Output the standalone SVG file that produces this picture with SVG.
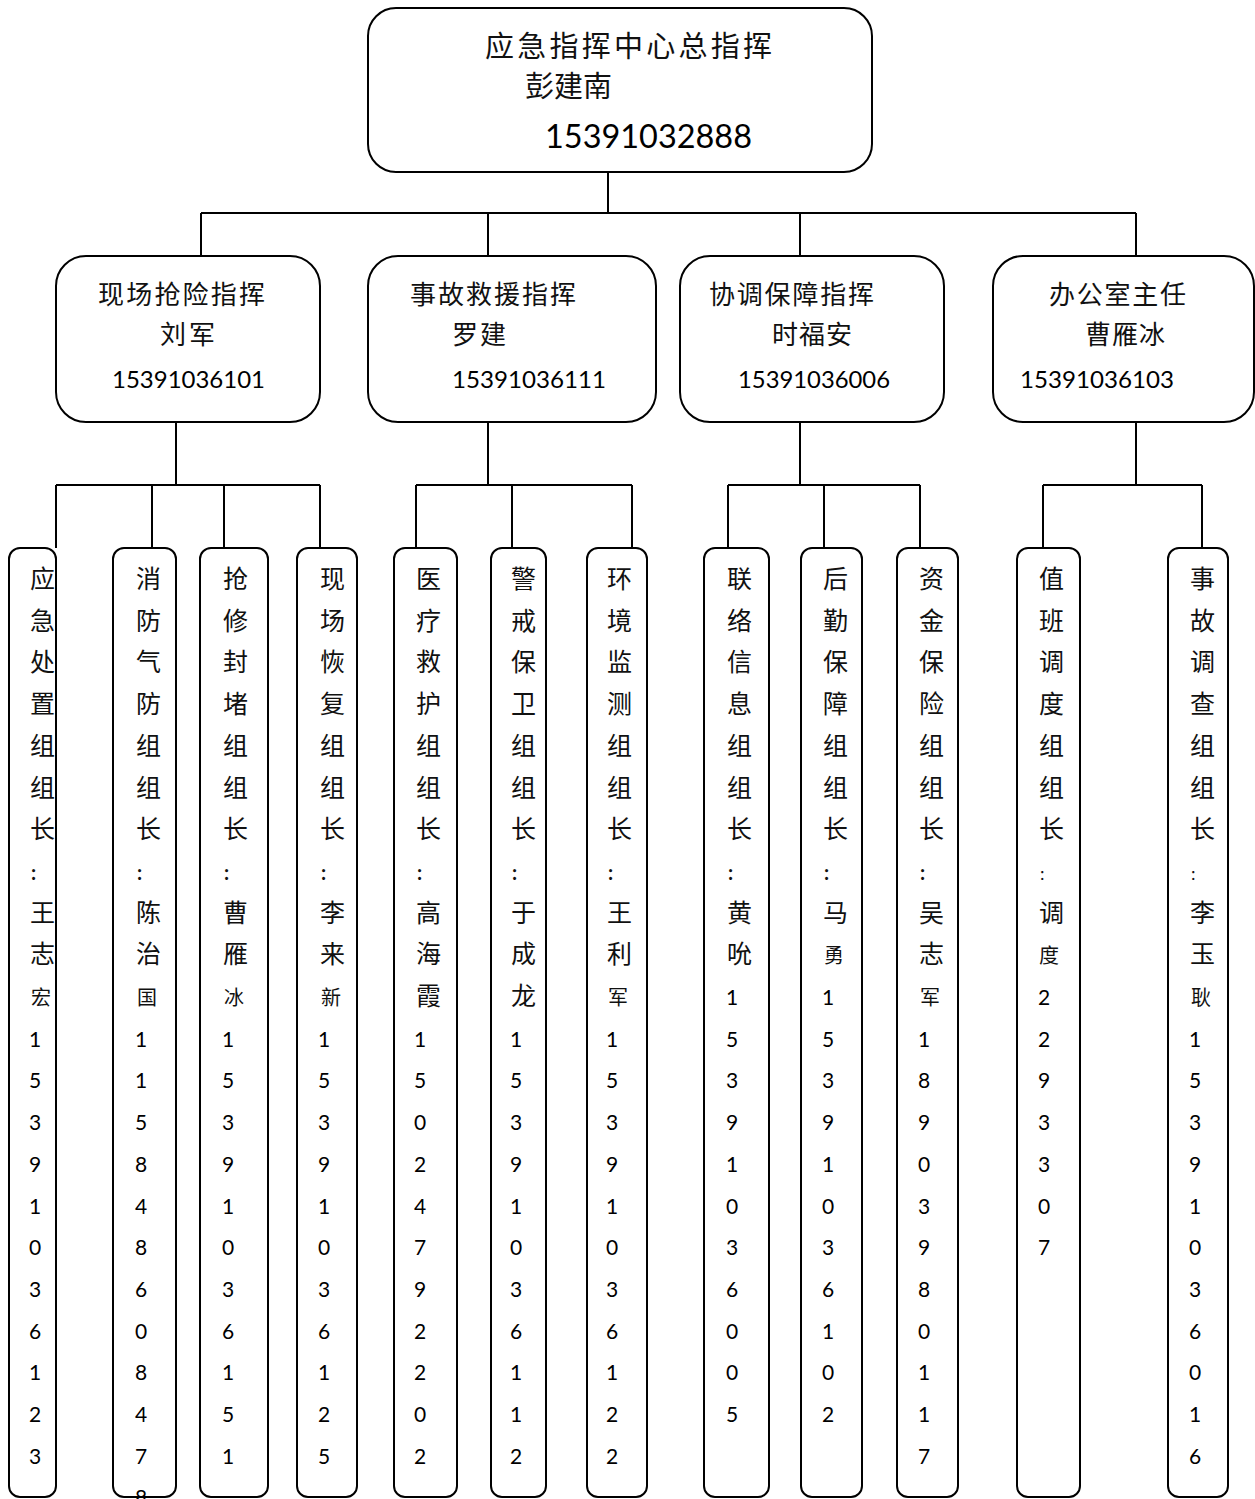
<svg xmlns="http://www.w3.org/2000/svg" width="1255" height="1499" viewBox="0 0 1255 1499">
<style>
.box{fill:#fff;stroke:#000;stroke-width:2}
.con{fill:none;stroke:#000;stroke-width:2}
.cjk{font-family:"Noto Sans CJK SC","Noto Sans CJK JP",sans-serif;fill:#111}
.num{font-family:Lato,"Open Sans","Liberation Sans",sans-serif;fill:#000}
.col{font-family:"Noto Sans CJK SC",sans-serif;font-size:25px;fill:#111}
.d{font-family:Lato,"Open Sans","Liberation Sans",sans-serif;font-size:21px;fill:#000}
.sm{font-size:20px}
.c{font-family:Lato,"Liberation Sans",sans-serif;font-size:20px;font-weight:bold}
.cl{font-family:Lato,"Liberation Sans",sans-serif;font-size:18px}
</style>
<rect width="1255" height="1499" fill="#fff"/>
<g id="connectors">
<path class="con" d="M608,173V213M201,213H1136M201,213V256M488,213V256M800,213V256M1136,213V256"/>
<path class="con" d="M176,422V485M56,485H320M56,485V548M152,485V548M224,485V548M320,485V548"/>
<path class="con" d="M488,422V485M416,485H632M416,485V548M512,485V548M632,485V548"/>
<path class="con" d="M800,422V485M728,485H920M728,485V548M824,485V548M920,485V548"/>
<path class="con" d="M1136,422V485M1043,485H1202M1043,485V548M1202,485V548"/>
</g>
<g id="n-top">
<rect class="box" x="368" y="8" width="504" height="164" rx="28"/>
<text class="cjk" x="485" y="57" font-size="29" textLength="287" lengthAdjust="spacing">应急指挥中心总指挥</text>
<text class="cjk" x="525" y="97" font-size="29" textLength="87" lengthAdjust="spacing">彭建南</text>
<text class="num" x="545" y="148" font-size="32" textLength="207" lengthAdjust="spacingAndGlyphs">15391032888</text>
</g>
<g id="n-b1">
<rect class="box" x="56" y="256" width="264" height="166" rx="30"/>
<text class="cjk" x="98" y="304" font-size="26" textLength="167" lengthAdjust="spacing">现场抢险指挥</text>
<text class="cjk" x="160" y="344" font-size="26" textLength="55" lengthAdjust="spacing">刘军</text>
<text class="num" x="112" y="388" font-size="23" textLength="153" lengthAdjust="spacingAndGlyphs">15391036101</text>
</g>
<g id="n-b2">
<rect class="box" x="368" y="256" width="288" height="166" rx="30"/>
<text class="cjk" x="410" y="304" font-size="26" textLength="166" lengthAdjust="spacing">事故救援指挥</text>
<text class="cjk" x="452" y="344" font-size="26" textLength="54" lengthAdjust="spacing">罗建</text>
<text class="num" x="452" y="388" font-size="23" textLength="154" lengthAdjust="spacingAndGlyphs">15391036111</text>
</g>
<g id="n-b3">
<rect class="box" x="680" y="256" width="264" height="166" rx="30"/>
<text class="cjk" x="709" y="304" font-size="26" textLength="165" lengthAdjust="spacing">协调保障指挥</text>
<text class="cjk" x="772" y="344" font-size="26" textLength="80" lengthAdjust="spacing">时福安</text>
<text class="num" x="738" y="388" font-size="23" textLength="152" lengthAdjust="spacingAndGlyphs">15391036006</text>
</g>
<g id="n-b4">
<rect class="box" x="993" y="256" width="261" height="166" rx="30"/>
<text class="cjk" x="1049" y="304" font-size="26" textLength="137" lengthAdjust="spacing">办公室主任</text>
<text class="cjk" x="1085" y="344" font-size="26" textLength="80" lengthAdjust="spacing">曹雁冰</text>
<text class="num" x="1020" y="388" font-size="23" textLength="154" lengthAdjust="spacingAndGlyphs">15391036103</text>
</g>
<g id="c1">
<rect class="box" x="9" y="548" width="47" height="949" rx="11"/>
<text class="col"><tspan x="30" y="588">应</tspan><tspan x="30" y="629.7">急</tspan><tspan x="30" y="671.4">处</tspan><tspan x="30" y="713.1">置</tspan><tspan x="30" y="754.8">组</tspan><tspan x="30" y="796.5">组</tspan><tspan x="30" y="838.2">长</tspan><tspan class="c" x="31" y="879.9">:</tspan><tspan x="30" y="921.6">王</tspan><tspan x="30" y="963.3">志</tspan><tspan class="sm" x="31" y="1005">宏</tspan><tspan class="d" x="29" y="1046.7">1</tspan><tspan class="d" x="29" y="1088.4">5</tspan><tspan class="d" x="29" y="1130.1">3</tspan><tspan class="d" x="29" y="1171.8">9</tspan><tspan class="d" x="29" y="1213.5">1</tspan><tspan class="d" x="29" y="1255.2">0</tspan><tspan class="d" x="29" y="1296.9">3</tspan><tspan class="d" x="29" y="1338.6">6</tspan><tspan class="d" x="29" y="1380.3">1</tspan><tspan class="d" x="29" y="1422">2</tspan><tspan class="d" x="29" y="1463.7">3</tspan></text>
</g>
<g id="c2">
<rect class="box" x="113" y="548" width="63" height="949" rx="11"/>
<text class="col"><tspan x="136" y="588">消</tspan><tspan x="136" y="629.7">防</tspan><tspan x="136" y="671.4">气</tspan><tspan x="136" y="713.1">防</tspan><tspan x="136" y="754.8">组</tspan><tspan x="136" y="796.5">组</tspan><tspan x="136" y="838.2">长</tspan><tspan class="c" x="137" y="879.9">:</tspan><tspan x="136" y="921.6">陈</tspan><tspan x="136" y="963.3">治</tspan><tspan class="sm" x="137" y="1005">国</tspan><tspan class="d" x="135" y="1046.7">1</tspan><tspan class="d" x="135" y="1088.4">1</tspan><tspan class="d" x="135" y="1130.1">5</tspan><tspan class="d" x="135" y="1171.8">8</tspan><tspan class="d" x="135" y="1213.5">4</tspan><tspan class="d" x="135" y="1255.2">8</tspan><tspan class="d" x="135" y="1296.9">6</tspan><tspan class="d" x="135" y="1338.6">0</tspan><tspan class="d" x="135" y="1380.3">8</tspan><tspan class="d" x="135" y="1422">4</tspan><tspan class="d" x="135" y="1463.7">7</tspan><tspan class="d" x="135" y="1505.4">8</tspan></text>
</g>
<g id="c3">
<rect class="box" x="200" y="548" width="68" height="949" rx="11"/>
<text class="col"><tspan x="223" y="588">抢</tspan><tspan x="223" y="629.7">修</tspan><tspan x="223" y="671.4">封</tspan><tspan x="223" y="713.1">堵</tspan><tspan x="223" y="754.8">组</tspan><tspan x="223" y="796.5">组</tspan><tspan x="223" y="838.2">长</tspan><tspan class="c" x="224" y="879.9">:</tspan><tspan x="223" y="921.6">曹</tspan><tspan x="223" y="963.3">雁</tspan><tspan class="sm" x="224" y="1005">冰</tspan><tspan class="d" x="222" y="1046.7">1</tspan><tspan class="d" x="222" y="1088.4">5</tspan><tspan class="d" x="222" y="1130.1">3</tspan><tspan class="d" x="222" y="1171.8">9</tspan><tspan class="d" x="222" y="1213.5">1</tspan><tspan class="d" x="222" y="1255.2">0</tspan><tspan class="d" x="222" y="1296.9">3</tspan><tspan class="d" x="222" y="1338.6">6</tspan><tspan class="d" x="222" y="1380.3">1</tspan><tspan class="d" x="222" y="1422">5</tspan><tspan class="d" x="222" y="1463.7">1</tspan></text>
</g>
<g id="c4">
<rect class="box" x="297" y="548" width="60" height="949" rx="11"/>
<text class="col"><tspan x="320" y="588">现</tspan><tspan x="320" y="629.7">场</tspan><tspan x="320" y="671.4">恢</tspan><tspan x="320" y="713.1">复</tspan><tspan x="320" y="754.8">组</tspan><tspan x="320" y="796.5">组</tspan><tspan x="320" y="838.2">长</tspan><tspan class="c" x="321" y="879.9">:</tspan><tspan x="320" y="921.6">李</tspan><tspan x="320" y="963.3">来</tspan><tspan class="sm" x="321" y="1005">新</tspan><tspan class="d" x="318" y="1046.7">1</tspan><tspan class="d" x="318" y="1088.4">5</tspan><tspan class="d" x="318" y="1130.1">3</tspan><tspan class="d" x="318" y="1171.8">9</tspan><tspan class="d" x="318" y="1213.5">1</tspan><tspan class="d" x="318" y="1255.2">0</tspan><tspan class="d" x="318" y="1296.9">3</tspan><tspan class="d" x="318" y="1338.6">6</tspan><tspan class="d" x="318" y="1380.3">1</tspan><tspan class="d" x="318" y="1422">2</tspan><tspan class="d" x="318" y="1463.7">5</tspan></text>
</g>
<g id="c5">
<rect class="box" x="394" y="548" width="63" height="949" rx="11"/>
<text class="col"><tspan x="416" y="588">医</tspan><tspan x="416" y="629.7">疗</tspan><tspan x="416" y="671.4">救</tspan><tspan x="416" y="713.1">护</tspan><tspan x="416" y="754.8">组</tspan><tspan x="416" y="796.5">组</tspan><tspan x="416" y="838.2">长</tspan><tspan class="c" x="417" y="879.9">:</tspan><tspan x="416" y="921.6">高</tspan><tspan x="416" y="963.3">海</tspan><tspan x="416" y="1005">霞</tspan><tspan class="d" x="414" y="1046.7">1</tspan><tspan class="d" x="414" y="1088.4">5</tspan><tspan class="d" x="414" y="1130.1">0</tspan><tspan class="d" x="414" y="1171.8">2</tspan><tspan class="d" x="414" y="1213.5">4</tspan><tspan class="d" x="414" y="1255.2">7</tspan><tspan class="d" x="414" y="1296.9">9</tspan><tspan class="d" x="414" y="1338.6">2</tspan><tspan class="d" x="414" y="1380.3">2</tspan><tspan class="d" x="414" y="1422">0</tspan><tspan class="d" x="414" y="1463.7">2</tspan></text>
</g>
<g id="c6">
<rect class="box" x="491" y="548" width="55" height="949" rx="11"/>
<text class="col"><tspan x="511" y="588">警</tspan><tspan x="511" y="629.7">戒</tspan><tspan x="511" y="671.4">保</tspan><tspan x="511" y="713.1">卫</tspan><tspan x="511" y="754.8">组</tspan><tspan x="511" y="796.5">组</tspan><tspan x="511" y="838.2">长</tspan><tspan class="c" x="512" y="879.9">:</tspan><tspan x="511" y="921.6">于</tspan><tspan x="511" y="963.3">成</tspan><tspan x="511" y="1005">龙</tspan><tspan class="d" x="510" y="1046.7">1</tspan><tspan class="d" x="510" y="1088.4">5</tspan><tspan class="d" x="510" y="1130.1">3</tspan><tspan class="d" x="510" y="1171.8">9</tspan><tspan class="d" x="510" y="1213.5">1</tspan><tspan class="d" x="510" y="1255.2">0</tspan><tspan class="d" x="510" y="1296.9">3</tspan><tspan class="d" x="510" y="1338.6">6</tspan><tspan class="d" x="510" y="1380.3">1</tspan><tspan class="d" x="510" y="1422">1</tspan><tspan class="d" x="510" y="1463.7">2</tspan></text>
</g>
<g id="c7">
<rect class="box" x="587" y="548" width="60" height="949" rx="11"/>
<text class="col"><tspan x="607" y="588">环</tspan><tspan x="607" y="629.7">境</tspan><tspan x="607" y="671.4">监</tspan><tspan x="607" y="713.1">测</tspan><tspan x="607" y="754.8">组</tspan><tspan x="607" y="796.5">组</tspan><tspan x="607" y="838.2">长</tspan><tspan class="c" x="608" y="879.9">:</tspan><tspan x="607" y="921.6">王</tspan><tspan x="607" y="963.3">利</tspan><tspan class="sm" x="608" y="1005">军</tspan><tspan class="d" x="606" y="1046.7">1</tspan><tspan class="d" x="606" y="1088.4">5</tspan><tspan class="d" x="606" y="1130.1">3</tspan><tspan class="d" x="606" y="1171.8">9</tspan><tspan class="d" x="606" y="1213.5">1</tspan><tspan class="d" x="606" y="1255.2">0</tspan><tspan class="d" x="606" y="1296.9">3</tspan><tspan class="d" x="606" y="1338.6">6</tspan><tspan class="d" x="606" y="1380.3">1</tspan><tspan class="d" x="606" y="1422">2</tspan><tspan class="d" x="606" y="1463.7">2</tspan></text>
</g>
<g id="c8">
<rect class="box" x="704" y="548" width="65" height="949" rx="11"/>
<text class="col"><tspan x="727" y="588">联</tspan><tspan x="727" y="629.7">络</tspan><tspan x="727" y="671.4">信</tspan><tspan x="727" y="713.1">息</tspan><tspan x="727" y="754.8">组</tspan><tspan x="727" y="796.5">组</tspan><tspan x="727" y="838.2">长</tspan><tspan class="c" x="728" y="879.9">:</tspan><tspan x="727" y="921.6">黄</tspan><tspan x="727" y="963.3">吮</tspan><tspan class="d" x="726" y="1005">1</tspan><tspan class="d" x="726" y="1046.7">5</tspan><tspan class="d" x="726" y="1088.4">3</tspan><tspan class="d" x="726" y="1130.1">9</tspan><tspan class="d" x="726" y="1171.8">1</tspan><tspan class="d" x="726" y="1213.5">0</tspan><tspan class="d" x="726" y="1255.2">3</tspan><tspan class="d" x="726" y="1296.9">6</tspan><tspan class="d" x="726" y="1338.6">0</tspan><tspan class="d" x="726" y="1380.3">0</tspan><tspan class="d" x="726" y="1422">5</tspan></text>
</g>
<g id="c9">
<rect class="box" x="801" y="548" width="61" height="949" rx="11"/>
<text class="col"><tspan x="823" y="588">后</tspan><tspan x="823" y="629.7">勤</tspan><tspan x="823" y="671.4">保</tspan><tspan x="823" y="713.1">障</tspan><tspan x="823" y="754.8">组</tspan><tspan x="823" y="796.5">组</tspan><tspan x="823" y="838.2">长</tspan><tspan class="c" x="824" y="879.9">:</tspan><tspan x="823" y="921.6">马</tspan><tspan class="sm" x="824" y="963.3">勇</tspan><tspan class="d" x="822" y="1005">1</tspan><tspan class="d" x="822" y="1046.7">5</tspan><tspan class="d" x="822" y="1088.4">3</tspan><tspan class="d" x="822" y="1130.1">9</tspan><tspan class="d" x="822" y="1171.8">1</tspan><tspan class="d" x="822" y="1213.5">0</tspan><tspan class="d" x="822" y="1255.2">3</tspan><tspan class="d" x="822" y="1296.9">6</tspan><tspan class="d" x="822" y="1338.6">1</tspan><tspan class="d" x="822" y="1380.3">0</tspan><tspan class="d" x="822" y="1422">2</tspan></text>
</g>
<g id="c10">
<rect class="box" x="897" y="548" width="61" height="949" rx="11"/>
<text class="col"><tspan x="919" y="588">资</tspan><tspan x="919" y="629.7">金</tspan><tspan x="919" y="671.4">保</tspan><tspan x="919" y="713.1">险</tspan><tspan x="919" y="754.8">组</tspan><tspan x="919" y="796.5">组</tspan><tspan x="919" y="838.2">长</tspan><tspan class="c" x="920" y="879.9">:</tspan><tspan x="919" y="921.6">吴</tspan><tspan x="919" y="963.3">志</tspan><tspan class="sm" x="920" y="1005">军</tspan><tspan class="d" x="918" y="1046.7">1</tspan><tspan class="d" x="918" y="1088.4">8</tspan><tspan class="d" x="918" y="1130.1">9</tspan><tspan class="d" x="918" y="1171.8">0</tspan><tspan class="d" x="918" y="1213.5">3</tspan><tspan class="d" x="918" y="1255.2">9</tspan><tspan class="d" x="918" y="1296.9">8</tspan><tspan class="d" x="918" y="1338.6">0</tspan><tspan class="d" x="918" y="1380.3">1</tspan><tspan class="d" x="918" y="1422">1</tspan><tspan class="d" x="918" y="1463.7">7</tspan></text>
</g>
<g id="c11">
<rect class="box" x="1017" y="548" width="63" height="949" rx="11"/>
<text class="col"><tspan x="1039" y="588">值</tspan><tspan x="1039" y="629.7">班</tspan><tspan x="1039" y="671.4">调</tspan><tspan x="1039" y="713.1">度</tspan><tspan x="1039" y="754.8">组</tspan><tspan x="1039" y="796.5">组</tspan><tspan x="1039" y="838.2">长</tspan><tspan class="cl" x="1040" y="879.9">:</tspan><tspan x="1039" y="921.6">调</tspan><tspan class="sm" x="1039" y="963.3">度</tspan><tspan class="d" x="1038" y="1005">2</tspan><tspan class="d" x="1038" y="1046.7">2</tspan><tspan class="d" x="1038" y="1088.4">9</tspan><tspan class="d" x="1038" y="1130.1">3</tspan><tspan class="d" x="1038" y="1171.8">3</tspan><tspan class="d" x="1038" y="1213.5">0</tspan><tspan class="d" x="1038" y="1255.2">7</tspan></text>
</g>
<g id="c12">
<rect class="box" x="1168" y="548" width="60" height="949" rx="11"/>
<text class="col"><tspan x="1190" y="588">事</tspan><tspan x="1190" y="629.7">故</tspan><tspan x="1190" y="671.4">调</tspan><tspan x="1190" y="713.1">查</tspan><tspan x="1190" y="754.8">组</tspan><tspan x="1190" y="796.5">组</tspan><tspan x="1190" y="838.2">长</tspan><tspan class="cl" x="1191" y="879.9">:</tspan><tspan x="1190" y="921.6">李</tspan><tspan x="1190" y="963.3">玉</tspan><tspan class="sm" x="1191" y="1005">耿</tspan><tspan class="d" x="1189" y="1046.7">1</tspan><tspan class="d" x="1189" y="1088.4">5</tspan><tspan class="d" x="1189" y="1130.1">3</tspan><tspan class="d" x="1189" y="1171.8">9</tspan><tspan class="d" x="1189" y="1213.5">1</tspan><tspan class="d" x="1189" y="1255.2">0</tspan><tspan class="d" x="1189" y="1296.9">3</tspan><tspan class="d" x="1189" y="1338.6">6</tspan><tspan class="d" x="1189" y="1380.3">0</tspan><tspan class="d" x="1189" y="1422">1</tspan><tspan class="d" x="1189" y="1463.7">6</tspan></text>
</g>
</svg>
